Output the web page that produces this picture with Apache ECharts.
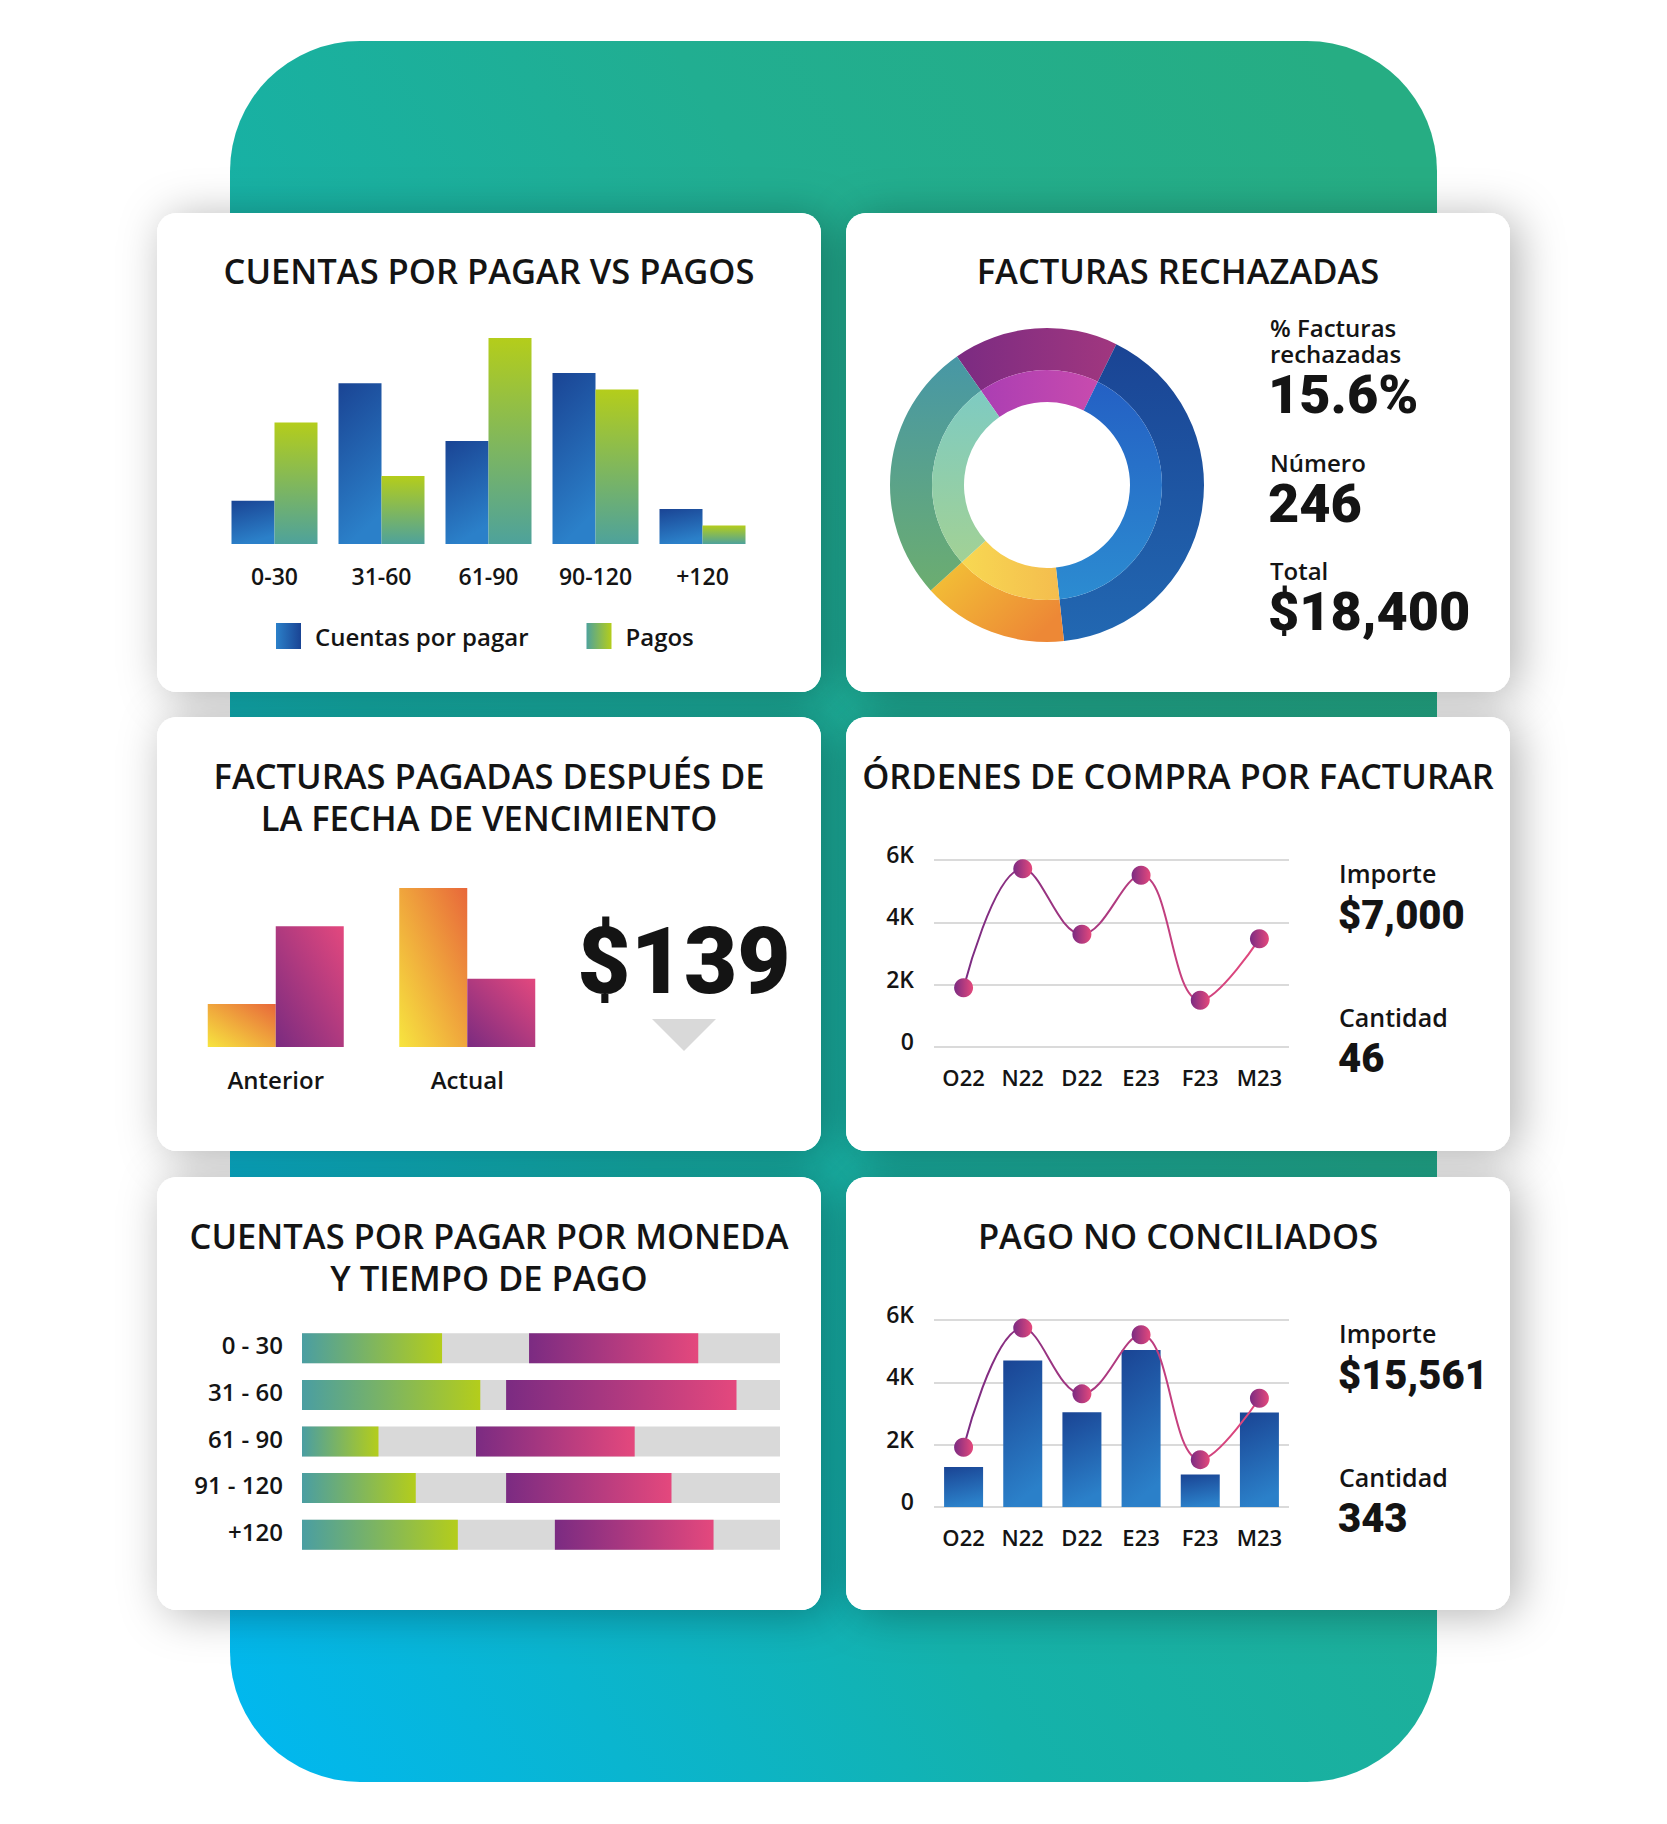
<!DOCTYPE html>
<html lang="es">
<head>
<meta charset="utf-8">
<title>Cuentas por pagar</title>
<script src="https://cdn.jsdelivr.net/npm/echarts@6/dist/echarts.min.js"></script>
<style>
  html, body { margin: 0; background: #fff; }
  #dashboard { width: 1667px; height: 1824px; }
</style>
</head>
<body>
<div id="dashboard"></div>
<script>
// Cuentas por pagar vs pagos (relative heights, tallest = 100)
const agingBuckets = ['0-30', '31-60', '61-90', '90-120', '+120'];
const cuentasPorPagar = [21, 78, 50, 83, 17];
const pagos = [59, 33, 100, 75, 9];

// Facturas rechazadas: share of the ring, clockwise from the purple slice
const rechazoSegments = ['Segmento 1', 'Segmento 2', 'Segmento 3', 'Segmento 4'];
const rechazoShare = [17, 41, 15, 27];
const rechazoKpis = [['% Facturas', 'rechazadas', '15.6%'], ['Número', null, '246'], ['Total', null, '$18,400']];

// Facturas pagadas después de la fecha de vencimiento
const periodos = ['Anterior', 'Actual'];
const vencidasNaranja = [27, 100];
const vencidasMorado = [76, 43];
const vencidasTotal = '$139';

// Órdenes de compra por facturar / pago no conciliados
const meses = ['O22', 'N22', 'D22', 'E23', 'F23', 'M23'];
const ordenesPorFacturar = [1900, 5720, 3620, 5510, 1500, 3470];
const ordenesKpis = [['Importe', '$7,000'], ['Cantidad', '46']];
const noConciliadosBarras = [1280, 4700, 3040, 5040, 1040, 3030];
const noConciliadosLinea = [1920, 5740, 3630, 5530, 1520, 3490];
const noConciliadosKpis = [['Importe', '$15,561'], ['Cantidad', '343']];

// Cuentas por pagar por moneda y tiempo de pago (percent of track)
const monedaBuckets = ['0 - 30', '31 - 60', '61 - 90', '91 - 120', '+120'];
const monedaVerde = [29.3, 37.3, 16.0, 23.8, 32.6];
const monedaHueco = [18.2, 5.4, 20.4, 18.9, 20.3];
const monedaMorado = [35.4, 48.2, 33.2, 34.6, 33.2];

const chart = echarts.init(document.getElementById('dashboard'), null, { renderer: 'svg' });

const SANS = "'Open Sans', 'Noto Sans', sans-serif";
const HEAVY = "Roboto, 'Open Sans', sans-serif";
const INK = '#141414';

function grad(x, y, x2, y2, c0, c1) {
  return { type: 'linear', x, y, x2, y2, colorStops: [{ offset: 0, color: c0 }, { offset: 1, color: c1 }] };
}

const blueBar = grad(0, 0, 0.25, 1, '#1a4494', '#2b80c9');
const greenBar = grad(0, 0, 0, 1, '#b4cd1b', '#4ea29b');
const orangeBar = grad(1, 0, 0, 1, '#e8673a', '#f7e53f');
const purpleBar = grad(1, 0, 0, 1, '#e3487e', '#7a2b80');
const lineGrad = grad(0, 0, 1, 0, '#7b2b82', '#e2487d');
const dotGrad = grad(0, 0, 1, 0, '#7b2b82', '#e5497c');

const outerColors = [
  grad(0, 0, 1, 0, '#7b2b82', '#a1377f'),
  grad(0, 0, 0, 1, '#1a4494', '#2268b2'),
  grad(0, 0, 1, 0.6, '#f3c536', '#ed8836'),
  grad(0, 0, 0, 1, '#4797a6', '#6cad70'),
];
const innerColors = [
  grad(0, 0, 1, 0, '#ab3eb3', '#c84bae'),
  grad(0, 0, 0, 1, '#2460c4', '#2c8cd1'),
  grad(0, 0, 1, 0, '#f8d852', '#f4bd4e'),
  grad(0, 0, 0, 1, '#7ecbc2', '#a2d195'),
];

const cards = [
  [157, 213, 664, 479], [846, 213, 664, 479],
  [157, 717, 664, 434], [846, 717, 664, 434],
  [157, 1177, 664, 433], [846, 1177, 664, 433],
];

function text(x, y, s, size, opts = {}) {
  return {
    type: 'text', x, y, z: 10, silent: true,
    style: {
      text: s, fontSize: size, lineHeight: size, fontFamily: opts.family || SANS,
      fontWeight: opts.weight || 600, fill: INK,
      align: opts.align || 'center', verticalAlign: 'middle',
    },
  };
}

const graphics = [
  {
    type: 'rect', z: 0, silent: true,
    shape: { x: 230, y: 41, width: 1207, height: 1741, r: 130 },
    style: {
      fill: {
        type: 'linear', x: 1, y: 0.1, x2: 0, y2: 1,
        colorStops: [
          { offset: 0, color: '#26ad83' }, { offset: 0.3, color: '#21ae91' },
          { offset: 0.63, color: '#14b2ab' }, { offset: 1, color: '#00b8f3' },
        ],
      },
    },
  },
];
cards.forEach(([x, y, w, h]) => {
  graphics.push({
    type: 'rect', z: 0, silent: true,
    shape: { x, y, width: w, height: h, r: 20 },
    style: { fill: '#fff', shadowBlur: 45, shadowColor: 'rgba(0,0,0,0.3)', shadowOffsetX: 8, shadowOffsetY: 4 },
  });
});
cards.forEach(([x, y, w, h]) => {
  graphics.push({
    type: 'rect', z: 1, silent: true,
    shape: { x, y, width: w, height: h, r: 20 },
    style: { fill: '#fff' },
  });
});

const TITLE = 34.5;
graphics.push(
  text(489, 270, 'CUENTAS POR PAGAR VS PAGOS', TITLE),
  text(1178, 270, 'FACTURAS RECHAZADAS', TITLE),
  text(489, 775, 'FACTURAS PAGADAS DESPUÉS DE', TITLE),
  text(489, 817, 'LA FECHA DE VENCIMIENTO', TITLE),
  text(1178, 775, 'ÓRDENES DE COMPRA POR FACTURAR', TITLE),
  text(489, 1235, 'CUENTAS POR PAGAR POR MONEDA', TITLE),
  text(489, 1277, 'Y TIEMPO DE PAGO', TITLE),
  text(1178, 1235, 'PAGO NO CONCILIADOS', TITLE),
);

// KPI block of the donut card
const rechazoRows = [[327, 353, 394], [462, null, 503], [570, null, 611]];
rechazoKpis.forEach(([l1, l2, value], i) => {
  const [y1, y2, yv] = rechazoRows[i];
  graphics.push(text(1270, y1, l1, 24, { align: 'left' }));
  if (l2) graphics.push(text(1270, y2, l2, 24, { align: 'left' }));
  graphics.push(text(1268, yv, value, 54, { align: 'left', family: HEAVY, weight: 900 }));
});

// KPI blocks next to the two line charts
[[ordenesKpis, 873, 915, 1017, 1058], [noConciliadosKpis, 1333, 1375, 1477, 1518]].forEach(([kpis, a, b, c, d]) => {
  graphics.push(
    text(1339, a, kpis[0][0], 25, { align: 'left' }),
    text(1338, b, kpis[0][1], 40, { align: 'left', family: HEAVY, weight: 900 }),
    text(1339, c, kpis[1][0], 25, { align: 'left' }),
    text(1338, d, kpis[1][1], 40, { align: 'left', family: HEAVY, weight: 900 }),
  );
});

graphics.push(text(684, 961, vencidasTotal, 92, { family: HEAVY, weight: 900 }));
graphics.push({
  type: 'polygon', z: 10, silent: true,
  shape: { points: [[652, 1019], [716, 1019], [684, 1051]] },
  style: { fill: '#d9d9d9' },
});

const labelStyle = { fontFamily: SANS, fontWeight: 600, color: INK };
const hiddenValue = (gridIndex, max) => ({ type: 'value', gridIndex, min: 0, max, show: false });
const monthAxis = (gridIndex) => ({
  type: 'category', gridIndex, data: meses, z: 3,
  axisLine: { show: false }, axisTick: { show: false },
  axisLabel: { ...labelStyle, fontSize: 22, margin: 19, interval: 0 },
});
const kAxis = (gridIndex) => ({
  type: 'value', gridIndex, min: 0, max: 6000, interval: 2000, z: 3,
  axisLine: { show: false }, axisTick: { show: false },
  splitLine: { lineStyle: { color: '#dadada', width: 2 } },
  axisLabel: {
    ...labelStyle, fontSize: 23, margin: 20, verticalAlign: 'bottom', lineHeight: 12,
    formatter: (v) => (v === 0 ? '0' : v / 1000 + 'K'),
  },
});
const dotLine = (name, data, xAxisIndex) => ({
  name, type: 'line', xAxisIndex, yAxisIndex: xAxisIndex, data,
  smooth: 0.4, symbol: 'circle', symbolSize: 19, z: 6,
  lineStyle: { width: 2, color: lineGrad },
  itemStyle: { color: dotGrad },
});
const ring = (name, radius, colors) => ({
  name, type: 'pie', center: [1047, 485], radius, startAngle: 125, silent: true,
  label: { show: false, position: 'inside', formatter: () => ' ' },
  labelLine: { show: false },
  emphasis: { disabled: true, label: { show: false } },
  data: rechazoSegments.map((seg, i) => ({ name: seg, value: rechazoShare[i], itemStyle: { color: colors[i] } })),
});

chart.setOption({
  animation: false,
  backgroundColor: '#fff',
  graphic: { elements: graphics },
  legend: {
    left: 276, top: 623, padding: 0, icon: 'rect', itemWidth: 25, itemHeight: 26, itemGap: 58,
    selectedMode: false, z: 5,
    textStyle: { ...labelStyle, fontSize: 24, padding: [0, 0, 0, 9] },
    data: [
      { name: 'Cuentas por pagar', itemStyle: { color: grad(0, 0, 1, 0, '#2b80c9', '#1a4494') } },
      { name: 'Pagos', itemStyle: { color: grad(0, 0, 1, 0, '#4ea29b', '#b4cd1b') } },
    ],
  },
  grid: [
    { left: 221, top: 338, width: 535, height: 206 },
    { left: 180, top: 888, width: 383, height: 159 },
    { left: 934, top: 860, width: 355, height: 187 },
    { left: 934, top: 1320, width: 355, height: 187 },
    { left: 302, top: 1325, width: 478, height: 233 },
  ],
  xAxis: [
    {
      type: 'category', gridIndex: 0, data: agingBuckets, z: 3,
      axisLine: { show: false }, axisTick: { show: false },
      axisLabel: { ...labelStyle, fontSize: 23, margin: 20, interval: 0 },
    },
    {
      type: 'category', gridIndex: 1, data: periodos, z: 3,
      axisLine: { show: false }, axisTick: { show: false },
      axisLabel: { ...labelStyle, fontSize: 24, margin: 20, interval: 0 },
    },
    monthAxis(2),
    monthAxis(3),
    hiddenValue(4, 100),
  ],
  yAxis: [
    hiddenValue(0, 100),
    hiddenValue(1, 100),
    kAxis(2),
    kAxis(3),
    {
      type: 'category', gridIndex: 4, data: monedaBuckets, inverse: true, z: 3,
      axisLine: { show: false }, axisTick: { show: false },
      axisLabel: { ...labelStyle, fontSize: 24, margin: 19, interval: 0, verticalAlign: 'bottom', lineHeight: 7 },
    },
  ],
  series: [
    {
      name: 'Cuentas por pagar', type: 'bar', xAxisIndex: 0, yAxisIndex: 0, z: 4,
      data: cuentasPorPagar, barWidth: 43, barGap: '0%', itemStyle: { color: blueBar },
    },
    {
      name: 'Pagos', type: 'bar', xAxisIndex: 0, yAxisIndex: 0, z: 4,
      data: pagos, barWidth: 43, barGap: '0%', itemStyle: { color: greenBar },
    },
    ring('Rechazadas exterior', [115, 157], outerColors),
    ring('Rechazadas interior', [83, 115], innerColors),
    {
      name: 'Vencidas A', type: 'bar', xAxisIndex: 1, yAxisIndex: 1, z: 4,
      data: vencidasNaranja, barWidth: 68, barGap: '0%', itemStyle: { color: orangeBar },
    },
    {
      name: 'Vencidas B', type: 'bar', xAxisIndex: 1, yAxisIndex: 1, z: 4,
      data: vencidasMorado, barWidth: 68, barGap: '0%', itemStyle: { color: purpleBar },
    },
    dotLine('Órdenes', ordenesPorFacturar, 2),
    {
      name: 'No conciliados', type: 'bar', xAxisIndex: 3, yAxisIndex: 3, z: 4,
      data: noConciliadosBarras, barWidth: 39, itemStyle: { color: grad(0, 0, 0.2, 1, '#1a4494', '#2b80c9') },
    },
    dotLine('No conciliados tendencia', noConciliadosLinea, 3),
    {
      name: 'Moneda A', type: 'bar', xAxisIndex: 4, yAxisIndex: 4, stack: 'moneda', z: 4,
      data: monedaVerde, barWidth: 30,
      showBackground: true, backgroundStyle: { color: '#d9d9d9' },
      itemStyle: { color: grad(0, 0, 1, 0, '#4a9ea2', '#b4cd1b') },
    },
    {
      name: 'Hueco', type: 'bar', xAxisIndex: 4, yAxisIndex: 4, stack: 'moneda', z: 4,
      data: monedaHueco, barWidth: 30, itemStyle: { color: 'rgba(0,0,0,0)' },
    },
    {
      name: 'Moneda B', type: 'bar', xAxisIndex: 4, yAxisIndex: 4, stack: 'moneda', z: 4,
      data: monedaMorado, barWidth: 30,
      itemStyle: { color: grad(0, 0, 1, 0, '#7b2b82', '#e4487d') },
    },
  ],
});

window.addEventListener('resize', () => chart.resize());
</script>
</body>
</html>
